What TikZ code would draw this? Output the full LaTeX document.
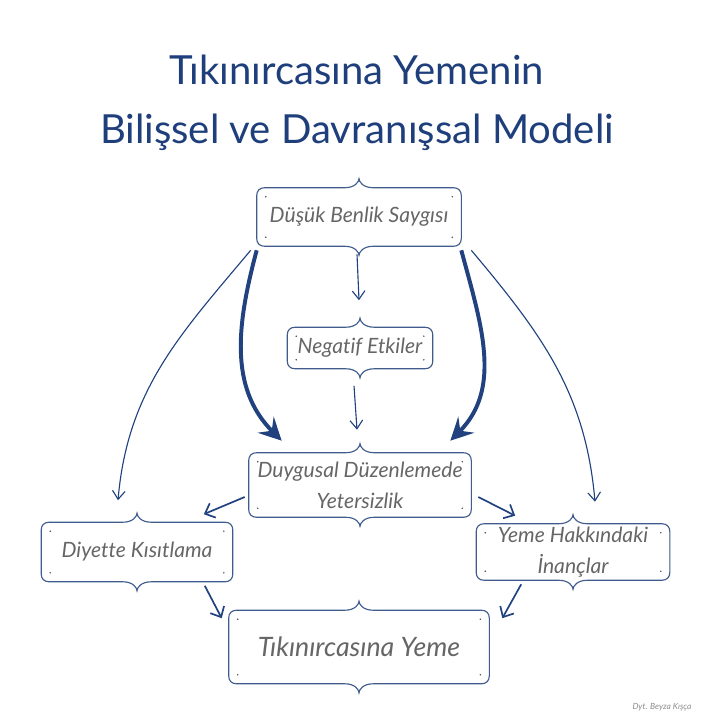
\documentclass[tikz,border=0pt]{standalone}
\usepackage{fontspec}
\setmainfont{Lato}[Ligatures=NoCommon]
\usepackage{tikz}
\usetikzlibrary{positioning,arrows.meta,calc}

\definecolor{titleblue}{HTML}{1E3F7B}
\definecolor{arrowblue}{HTML}{21427F}
\definecolor{frameblue}{HTML}{3F5C8C}
\definecolor{boxtext}{HTML}{666666}

\tikzset{
  notebox/.style={inner sep=0pt, text=boxtext, font=\itshape\fontsize{15}{22}\selectfont, align=center},
  frameline/.style={draw=frameblue, line width=0.8pt},
  thinarrow/.style={draw=arrowblue, line width=0.8pt, -{Straight Barb[length=6pt,width=9pt]}},
  heavyarrow/.style={draw=arrowblue, line width=2.8pt, -{Stealth[length=16pt,width=16pt,inset=6pt]}},
  shortarrow/.style={draw=arrowblue, line width=1.2pt, -{Straight Barb[length=6pt,width=11pt]}}
}

% frame with braces on top and bottom
\newcommand{\bracketframe}[1]{%
  \draw[frameline] ($(#1.north west)+(0,8)$)
    .. controls +(0,-5) and +(-5,0) .. ($(#1.north west)+(8,0)$)
    -- ($(#1.north)+(-14,0)$)
    .. controls +(10,0) and +(0,3) .. ($(#1.north)+(0,-9)$)
    .. controls +(0,3) and +(-10,0) .. ($(#1.north)+(14,0)$)
    -- ($(#1.north east)+(-8,0)$)
    .. controls +(5,0) and +(0,-5) .. ($(#1.north east)+(0,8)$)
    -- ($(#1.south east)+(0,-8)$)
    .. controls +(0,5) and +(5,0) .. ($(#1.south east)+(-8,0)$)
    -- ($(#1.south)+(14,0)$)
    .. controls +(-10,0) and +(0,-3) .. ($(#1.south)+(0,9)$)
    .. controls +(0,-3) and +(10,0) .. ($(#1.south)+(-14,0)$)
    -- ($(#1.south west)+(8,0)$)
    .. controls +(-5,0) and +(0,5) .. ($(#1.south west)+(0,-8)$) -- cycle;
  \foreach \c/\dx/\dy in {north west/9/9, north east/-9/9, south west/9/-9, south east/-9/-9}
    \fill[black!70] ($(#1.\c)+(\dx,\dy)$) circle (0.6pt);
}

\begin{document}
\begin{tikzpicture}[x=0.025cm,y=-0.025cm]
    \useasboundingbox[fill=white] (0,0) rectangle (720,720);

    %% title
    \node[text=titleblue, font=\fontsize{28.5}{34}\selectfont] (title1) at (357,70) {Tıkınırcasına Yemenin};
    \node[text=titleblue, font=\fontsize{28.5}{34}\selectfont] (title2) at (357,132) {Bilişsel ve Davranışsal Modeli};

    %% boxes
    \node[notebox, minimum width=5.1cm, minimum height=1.45cm] (benlik) at (359,217) {Düşük Benlik Saygısı};
    \node[notebox, minimum width=3.625cm, minimum height=1.025cm] (negatif) at (360,348) {Negatif Etkiler};
    \node[notebox, minimum width=5.55cm, minimum height=1.6cm] (duygusal) at (360,485) {Duygusal Düzenlemede\\Yetersizlik};
    \node[notebox, minimum width=4.775cm, minimum height=1.475cm] (diyet) at (137,552) {Diyette Kısıtlama};
    \node[notebox, minimum width=4.825cm, minimum height=1.4cm] (inanc) at (573,552) {Yeme Hakkındaki\\İnançlar};
    \node[notebox, minimum width=6.5cm, minimum height=1.825cm, font=\itshape\fontsize{19}{24}\selectfont] (tikinma) at (359,647) {Tıkınırcasına Yeme};

    \foreach \b in {benlik,negatif,duygusal,diyet,inanc,tikinma}
        \bracketframe{\b};

    %% arrows
    \draw[thinarrow] ($(benlik.south)+(-2,8)$) -- ($(negatif.north)+(-1,-27)$);
    \draw[thinarrow] ($(negatif.south)+(-6,17)$) -- ($(duygusal.north)+(-3,-23)$);
    \draw[heavyarrow] ($(benlik.south west)+(0,4)$) to[out=-105,in=135] ($(duygusal.north west)+(33,-12)$);
    \draw[heavyarrow] ($(benlik.south east)+(0,4)$) to[out=-75,in=45] ($(duygusal.north east)+(-21,-12)$);
    \draw[thinarrow] ($(benlik.south west)+(-6,4)$) to[out=-130,in=85] ($(diyet.north)+(-19,-22)$);
    \draw[thinarrow] ($(benlik.south east)+(10,4)$) to[out=-50,in=95] ($(inanc.north)+(22,-22)$);
    \draw[shortarrow] ($(duygusal.west)+(-4,12)$) -- ($(diyet.north east)+(-29,-8)$);
    \draw[shortarrow] ($(duygusal.east)+(7,12)$) -- ($(inanc.north west)+(39,-8)$);
    \draw[shortarrow] ($(diyet.south east)+(-28,4)$) -- ($(tikinma.north west)+(-7,8)$);
    \draw[shortarrow] ($(inanc.south west)+(45,4)$) -- ($(tikinma.north east)+(13,8)$);

    %% signature
    \node[text=black!45, font=\itshape\fontsize{6}{7}\selectfont] (imza) at (662,707) {Dyt. Beyza Kışça};
\end{tikzpicture}
\end{document}
